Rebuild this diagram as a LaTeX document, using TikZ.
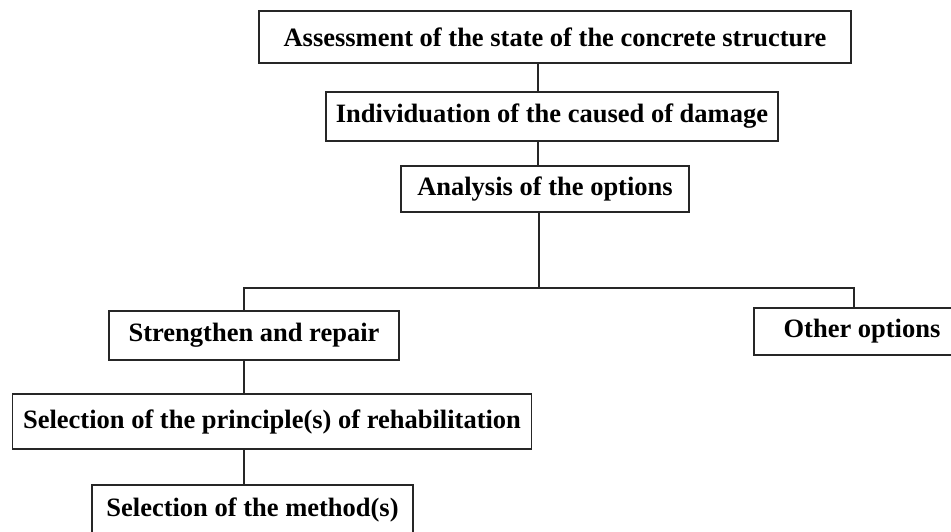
\documentclass[tikz,border=0pt]{standalone}
\usepackage{fontspec}
\setmainfont{Liberation Serif}
\usetikzlibrary{positioning, calc}

\begin{document}
\begin{tikzpicture}[
  x=1pt, y=-1pt,
  stagebox/.style={rectangle, draw=black!85, line width=1.5pt, inner sep=0pt,
                   align=center, font=\bfseries\fontsize{26.5}{30}\selectfont},
  link/.style={draw=black!85, line width=1.5pt}
]
\clip (0,0) rectangle (951,531);
\node[stagebox, minimum width=592pt, minimum height=52pt] (assess) at (555, 37) {Assessment of the state of the concrete structure};
\node[stagebox, minimum width=452pt, minimum height=49pt] (causes) at (552, 116.5) {Individuation of the caused of damage};
\node[stagebox, minimum width=288pt, minimum height=46pt] (options) at (545, 189) {Analysis of the options};
\node[stagebox, minimum width=290pt, minimum height=49pt] (repair) at (254, 335.5) {Strengthen and repair};
\node[stagebox, minimum width=216pt, minimum height=47pt] (other) at (862, 331.5) {Other options};
\node[stagebox, minimum width=519pt, minimum height=55pt] (principle) at (272, 421.5) {Selection of the principle(s) of rehabilitation};
\node[stagebox, minimum width=321pt, minimum height=50pt] (method) at (252.5, 510) {Selection of the method(s)};

% spines of the tree
\coordinate (spine) at (538, 0);
\coordinate (split) at (539, 288);
\coordinate (leftspine) at (244, 0);
\coordinate (rightspine) at (854, 0);

\draw[link] (assess.south -| spine) -- (causes.north -| spine);
\draw[link] (causes.south -| spine) -- (options.north -| spine);
\draw[link] (options.south -| split) -- (split);
\draw[link] (repair.north -| leftspine) -- (split -| leftspine) -- (split -| rightspine) -- (other.north -| rightspine);
\draw[link] (repair.south -| leftspine) -- (principle.north -| leftspine);
\draw[link] (principle.south -| leftspine) -- (method.north -| leftspine);
\end{tikzpicture}
\end{document}
